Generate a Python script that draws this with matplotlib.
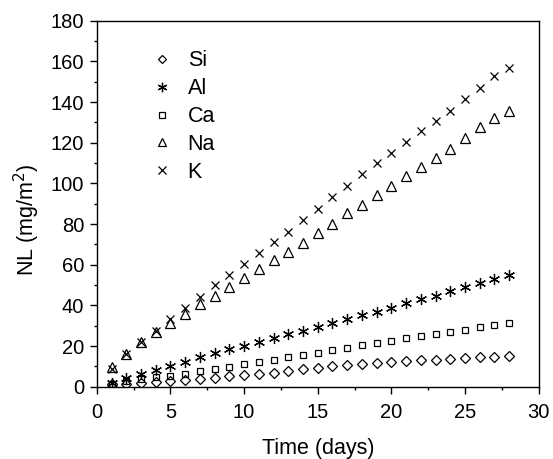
import matplotlib
matplotlib.use('Agg')
import matplotlib.pyplot as plt
from matplotlib.ticker import MultipleLocator
import numpy as np

plt.rcParams['font.family'] = ['Liberation Sans', 'DejaVu Sans']

# normalised leaching per element, mg/m^2, one value per day
days = np.arange(1, 29)

si = [1.4, 1.1, 1.9, 2.4, 2.7, 3.3, 3.7, 4.4, 5.1, 5.6, 6.3, 6.9, 7.9, 8.6, 9.3, 10.0,
      10.5, 11.1, 11.5, 12.1, 12.5, 13.1, 13.1, 13.8, 14.1, 14.5, 14.5, 15.1]
al = [2.0, 4.1, 6.2, 8.2, 10.3, 12.3, 14.5, 16.4, 18.4, 20.2, 21.8, 23.9, 25.9, 27.6,
      29.5, 31.5, 33.3, 35.1, 36.9, 38.9, 41.0, 43.0, 44.8, 47.0, 49.0, 51.2, 52.9, 54.8]
ca = [1.3, 2.6, 4.0, 4.6, 5.3, 6.2, 7.5, 8.6, 9.8, 11.0, 12.0, 13.1, 14.5, 15.5,
      16.7, 18.0, 19.2, 20.4, 21.5, 22.6, 23.8, 24.9, 25.9, 26.9, 28.0, 29.2, 30.2, 31.3]
na = [9.5, 16.0, 21.9, 26.9, 31.5, 35.7, 40.5, 44.8, 49.2, 53.3, 58.0, 62.3, 66.4, 70.8,
      75.5, 80.0, 85.2, 89.3, 94.1, 98.7, 103.4, 108.0, 112.4, 116.9, 122.1, 127.5, 131.9, 135.6]
k = [8.9, 16.0, 21.9, 27.4, 33.3, 38.7, 44.3, 49.9, 54.9, 60.3, 65.6, 71.0, 76.3, 81.8,
     87.3, 93.2, 98.8, 104.5, 109.8, 115.1, 120.2, 125.5, 130.7, 135.8, 141.3, 147.0, 152.7, 156.9]

series = [('Si', si, 'D', 5.2), ('Al', al, (6, 2, 0), 8.0), ('Ca', ca, 's', 5.0),
          ('Na', na, '^', 7.4), ('K', k, 'x', 6.2)]

fig = plt.figure(figsize=(5.53, 4.59), dpi=100)
ax = fig.add_axes([0.175, 0.1575, 0.799, 0.7975])

for name, vals, mk, ms in series:
    ax.plot(days, vals, linestyle='none', marker=mk, markersize=ms,
            markerfacecolor='none', markeredgecolor='black', markeredgewidth=0.9,
            label=name)

ax.set_xlim(0, 30)
ax.set_ylim(0, 180)
ax.xaxis.set_major_locator(MultipleLocator(5))
ax.xaxis.set_minor_locator(MultipleLocator(2.5))
ax.yaxis.set_major_locator(MultipleLocator(20))
ax.yaxis.set_minor_locator(MultipleLocator(10))
ax.tick_params(which='both', direction='out', top=False, right=False,
               labelsize=14.5, width=1.0, color='black')
ax.tick_params(which='major', length=5)
ax.tick_params(which='minor', length=2.5)
ax.tick_params(axis='x', pad=6.5)
ax.tick_params(axis='y', pad=4)
for sp in ax.spines.values():
    sp.set_linewidth(1.0)

fig.text(318 / 553, 1 - 454 / 459, 'Time (days)', ha='center', va='baseline', fontsize=15.5)
fig.text(27 / 553, 1 - 220 / 459, 'NL (mg/m$^2$)', ha='center', va='center',
         rotation=90, fontsize=15.5)

ax.legend(loc='upper left', bbox_to_anchor=(0.1276, 0.919), frameon=False,
          fontsize=15.5, markerscale=0.85, numpoints=1, handlelength=0.8,
          handletextpad=0.8, labelspacing=0.32, borderaxespad=0, borderpad=0)

plt.savefig('out.png', dpi=100)
